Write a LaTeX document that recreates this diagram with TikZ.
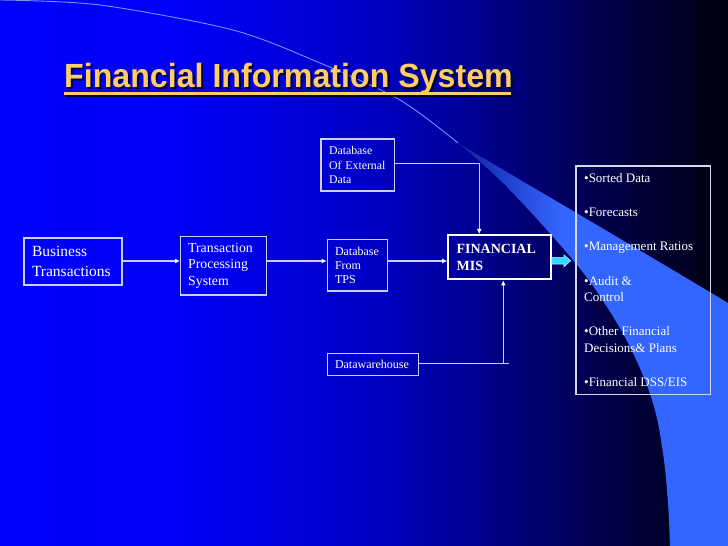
\documentclass[tikz,border=0pt]{standalone}
\usepackage{fontspec}
\usepackage{graphicx}
\setmainfont{Liberation Serif}
\newfontfamily\sansf{Liberation Sans}
\usetikzlibrary{arrows.meta}
\definecolor{linec}{RGB}{205,205,255}
\definecolor{titlec}{RGB}{255,204,102}
\definecolor{arcc}{RGB}{110,150,255}
\definecolor{outc}{RGB}{215,215,235}
\definecolor{cyanf}{RGB}{40,220,255}
\definecolor{cyand}{RGB}{180,240,255}
\pgfdeclarehorizontalshading{bgsh}{100bp}{rgb(0bp)=(0,0,1); rgb(25bp)=(0,0,1); rgb(37bp)=(0,0,0.98); rgb(50bp)=(0,0,0.78); rgb(57bp)=(0,0,0.59); rgb(66bp)=(0,0,0.3); rgb(72bp)=(0,0,0.14); rgb(75bp)=(0,0,0.06); rgb(100bp)=(0,0,0.06)}
\pgfdeclarehorizontalshading{bandsh}{100bp}{rgb(0bp)=(0.06,0.12,0.62); rgb(25bp)=(0.06,0.12,0.62); rgb(44bp)=(0.2,0.4,1); rgb(100bp)=(0.2,0.4,1)}
\newcommand{\ttltext}{\scalebox{0.96}[1]{Financial Information System}}
\tikzset{
  boxn/.style={draw=linec, line width=1.3pt, inner ysep=0pt, align=left, text=white, anchor=center},
  ln/.style={draw=linec, line width=1.3pt},
  arr/.style={ln, -{Latex[length=5pt,width=5pt,color=white]}},
  outtxt/.style={anchor=base west, inner sep=0pt, text=white, font=\fontsize{13}{16}\selectfont},
  ttl/.style={anchor=base west, inner sep=0pt, font=\sansf\bfseries\fontsize{33.5}{40}\selectfont},
}
\begin{document}
\begin{tikzpicture}[x=1pt,y=-1pt]
\useasboundingbox (0,0) rectangle (728,546);
% background
\shade[shading=bgsh] (0,0) rectangle (728,546);
% swoosh
\shade[shading=bandsh] (458,143) .. controls (520,180) and (640,250) .. (728,303) -- (728,546) -- (670,546)
  -- plot[smooth, tension=0.6] coordinates {(670,546) (668,503) (663,453) (653,403) (633,353) (607,307) (573,260) (507,187) (458,143)} -- cycle;
\draw[arcc, line width=0.9pt] plot[smooth] coordinates {(0,0) (100,5) (233,30) (320,63) (400,100) (458,143)};
% title with shadow
\node[ttl, text=black, opacity=0.75] (titleshadow) at (66,89.5) {\ttltext};
\fill[black, opacity=0.75] (66,94) rectangle (512.5,97);
\node[ttl, text=titlec] (title) at (64,87) {\ttltext};
\fill[titlec] (64,91.5) rectangle (510.5,94.5);
% boxes
\node[boxn, minimum width=98pt, minimum height=47pt, text width=82pt, inner xsep=8pt, font=\fontsize{15.5}{20}\selectfont] (bt) at (73,261.5) {Business\\Transactions};
\node[boxn, minimum width=86pt, minimum height=58.3pt, text width=71pt, inner xsep=7.5pt, font=\fontsize{13.8}{16.7}\selectfont] (tps) at (223.7,265.8) {Transaction\\Processing\\System};
\node[boxn, minimum width=60.4pt, minimum height=51.7pt, text width=45pt, inner xsep=7.7pt, font=\fontsize{12}{14.2}\selectfont] (dbt) at (357.5,265.2) {Database\\From\\TPS};
\node[boxn, minimum width=73.3pt, minimum height=52pt, text width=57.3pt, inner xsep=8pt, font=\fontsize{11.8}{14.2}\selectfont] (dbe) at (357.7,165) {Database\\Of External\\Data};
\node[boxn, minimum width=91pt, minimum height=22.4pt, text width=75.6pt, inner xsep=7.7pt, font=\fontsize{12}{14.2}\selectfont] (dw) at (372.8,364.5) {Datawarehouse};
\node[boxn, draw=white, line width=2.2pt, minimum width=102.4pt, minimum height=44.3pt, text width=85.8pt, inner xsep=8.3pt, font=\bfseries\fontsize{14}{16.5}\selectfont] (fin) at (499.5,257.2) {FINANCIAL\\MIS};
\node[draw=outc, line width=1.2pt, minimum width=134.7pt, minimum height=228.3pt, inner sep=0pt] (out) at (643.3,280.2) {};
% output list
\node[outtxt] (o1) at (584,182.8) {•Sorted Data};
\node[outtxt] (o2) at (584,216.7) {•Forecasts};
\node[outtxt] (o3) at (584,250.7) {•Management Ratios};
\node[outtxt] (o4) at (584,285) {•Audit \&};
\node[outtxt] (o5) at (584,301.7) {Control};
\node[outtxt] (o6) at (584,335.5) {•Other Financial};
\node[outtxt] (o7) at (584,352.3) {Decisions\& Plans};
\node[outtxt] (o8) at (584,386.5) {•Financial DSS/EIS};
% connectors
\coordinate (ym) at (0,261);
\coordinate (ye) at (0,163.3);
\coordinate (xe) at (479.3,0);
\coordinate (xw) at (503.3,0);
\coordinate (xwe) at (509.3,0);
\coordinate (yw) at (0,363.5);
\draw[arr] (bt.east |- ym) -- (tps.west |- ym);
\draw[arr] (tps.east |- ym) -- (dbt.west |- ym);
\draw[arr] (dbt.east |- ym) -- (fin.west |- ym);
\draw[arr] (dbe.east |- ye) -| (fin.north -| xe);
\draw[ln] (dw.east |- yw) -- (xwe |- yw);
\draw[arr] (xw |- yw) -- (fin.south -| xw);
% cyan block arrow
\draw[draw=cyand, line width=0.6pt, fill=cyanf] (551.7,257.3) -- (564,257.3) -- (564,255) -- (570.7,260.7) -- (564,266.7) -- (564,264) -- (551.7,264) -- cycle;
\end{tikzpicture}
\end{document}
